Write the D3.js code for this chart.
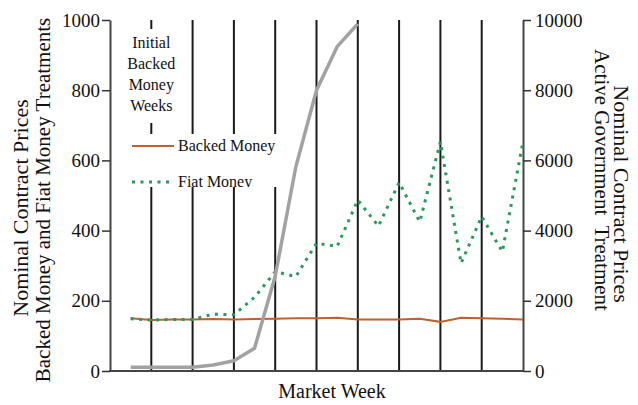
<!DOCTYPE html>
<html><head><meta charset="utf-8">
<script src="https://cdn.jsdelivr.net/npm/d3@7"></script>
<style>
html,body{margin:0;padding:0;background:#fff;}
svg{display:block;}
</style></head>
<body><svg id="c" width="638" height="405" font-family="Liberation Serif"></svg>
<script>
const weeks = [1,2,3,4,5,6,7,8,9,10,11,12,13,14,15,16,17,18,19,20];
const backedMoney = [150,145,147,147,148,147,148,149,150,150,152,147,147,147,149,140,152,150,149,147];
const fiatMoney = [149,145,147,147,162,160,210,283,269,364,355,487,413,537,425,653,307,440,340,653];
const govWeeks = [1,2,3,4,5,6,7,8,9,10,11,12];
const activeGov = [110,110,110,110,170,290,650,2700,5820,8000,9240,9890];
const sessionBreaks = [2,4,6,8,10,12,14,16,18];
const leftTicks = [0,200,400,600,800,1000];
const rightTicks = [0,2000,4000,6000,8000,10000];
const introLines = ["Initial","Backed","Money","Weeks"];

const FONT = "Liberation Serif";
const svg = d3.select("#c");
const L = 110, R = 523, T = 20, B = 371;
const x = d3.scaleLinear().domain([0,20]).range([L,R]);
const yL = d3.scaleLinear().domain([0,1000]).range([B,T]);
const yR = d3.scaleLinear().domain([0,10000]).range([B,T]);

// vertical session lines
svg.append("g").selectAll("line").data(sessionBreaks).join("line")
  .attr("x1",d=>x(d)).attr("x2",d=>x(d)).attr("y1",T).attr("y2",B)
  .attr("stroke","#1a1a1a").attr("stroke-width",2);

// white boxes behind annotation & legend
svg.append("rect").attr("x",x(1)-4).attr("y",29).attr("width",50).attr("height",94).attr("fill","#fff");
svg.append("rect").attr("x",x(1)-4).attr("y",134).attr("width",156).attr("height",53).attr("fill","#fff");

// annotation text
svg.append("g").selectAll("text").data(introLines).join("text")
  .attr("x",x(2)).attr("y",(d,i)=>48+i*21).attr("text-anchor","middle")
  .attr("font-family",FONT).attr("font-size",16).attr("fill","#111").text(d=>d);

// axes
const axL = svg.append("g").attr("transform",`translate(${L},0)`)
  .call(d3.axisLeft(yL).tickValues(leftTicks).tickFormat(d3.format("d")).tickSize(8).tickSizeOuter(0).tickPadding(2));
const axR = svg.append("g").attr("transform",`translate(${R},0)`)
  .call(d3.axisRight(yR).tickValues(rightTicks).tickFormat(d3.format("d")).tickSize(8).tickSizeOuter(0).tickPadding(4));
[axL,axR].forEach(a=>{
  a.attr("font-family",FONT);
  a.select(".domain").attr("stroke","#444").attr("stroke-width",2);
  a.selectAll(".tick line").attr("stroke","#333").attr("stroke-width",1.5);
  a.selectAll(".tick text").attr("font-family",FONT).attr("font-size",19).attr("fill","#111");
});
svg.append("line").attr("x1",L-1).attr("x2",R+1).attr("y1",B).attr("y2",B)
  .attr("stroke","#444").attr("stroke-width",2);

// series
const lineL = d3.line().x((d,i)=>x(weeks[i])).y(d=>yL(d));
svg.append("path").datum(backedMoney).attr("d",lineL)
  .attr("fill","none").attr("stroke","#c0602c").attr("stroke-width",2);
svg.append("path").datum(fiatMoney).attr("d",lineL)
  .attr("fill","none").attr("stroke","#2a9a5c").attr("stroke-width",3)
  .attr("stroke-dasharray","3,5.5");
const lineR = d3.line().x((d,i)=>x(govWeeks[i])).y(d=>yR(d));
svg.append("path").datum(activeGov).attr("d",lineR)
  .attr("fill","none").attr("stroke","#a2a2a2").attr("stroke-width",3.5)
  .attr("stroke-linejoin","round");

// legend
const defs = svg.append("defs");
defs.append("clipPath").attr("id","lgclip").append("rect")
  .attr("x",120).attr("y",130).attr("width",200).attr("height",57);
const lg = svg.append("g").attr("clip-path","url(#lgclip)");
const legendItems = [
  {name:"Backed Money", color:"#c0602c", dash:null, w:2, y:146},
  {name:"Fiat Money", color:"#2a9a5c", dash:"3,5.5", w:3, y:182}
];
legendItems.forEach(it=>{
  lg.append("line").attr("x1",132).attr("x2",174).attr("y1",it.y).attr("y2",it.y)
    .attr("stroke",it.color).attr("stroke-width",it.w).attr("stroke-dasharray",it.dash);
  lg.append("text").attr("x",178).attr("y",it.y+5).attr("font-family",FONT)
    .attr("font-size",16).attr("fill","#111").text(it.name);
});

// axis titles
function title(tx, ty, rot, size, txt){
  svg.append("text").attr("transform",`translate(${tx},${ty}) rotate(${rot})`).attr("dy","0.35em")
    .attr("text-anchor","middle").attr("font-family",FONT).attr("font-size",size).attr("fill","#111")
    .style("white-space","pre").text(txt);
}
title(20,208,-90,22,"Nominal Contract Prices");
title(43,200,-90,21,"Backed Money and Fiat Money Treatments");
title(622,194,90,22,"Nominal Contract Prices");
title(602,180,90,21,"Active Government  Treatment");
svg.append("text").attr("x",332).attr("y",398).attr("text-anchor","middle")
  .attr("font-family",FONT).attr("font-size",20).attr("fill","#111").text("Market Week");
</script></body></html>
